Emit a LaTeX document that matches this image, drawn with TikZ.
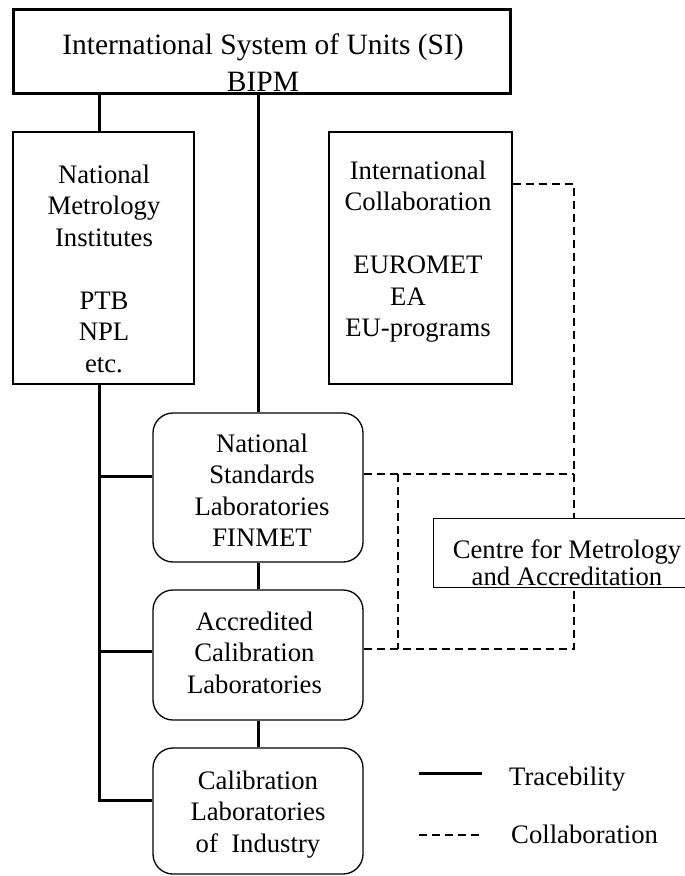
\documentclass[tikz,border=0pt]{standalone}
\usepackage{fontspec}
\setmainfont{Liberation Serif}
\begin{document}
\begin{tikzpicture}[x=1pt,y=-1pt,
  box/.style={draw, line width=1.3pt, fill=white, inner sep=0pt},
  rbox/.style={box, rounded corners=20pt},
  txt/.style={align=center, inner sep=0pt, anchor=north, font=\fontsize{26.7pt}{31.5pt}\selectfont},
  lbl/.style={inner sep=0pt, anchor=base west, font=\fontsize{26.7pt}{31.5pt}\selectfont},
  trace/.style={line width=3pt},
  collab/.style={line width=2.6pt, dash pattern=on 8pt off 5pt},
]
\useasboundingbox[fill=white] (0,0) rectangle (685,876);

% boxes
\node[box, line width=3pt, minimum width=497pt, minimum height=84pt] (si) at (261.5,51) {};
\node[txt, font=\fontsize{29.5pt}{37pt}\selectfont] (si-t) at (263,28.6) {\strut International System of Units (SI)\\BIPM};

\node[box, minimum width=181pt, minimum height=252pt] (nmi) at (103.5,258) {};
\node[txt] (nmi-t) at (104,161) {\strut National\\Metrology\\Institutes\\[31.5pt]PTB\\NPL\\etc.};

\node[box, minimum width=183pt, minimum height=252pt] (ic) at (420.5,258) {};
\node[txt] (ic-t) at (418,157) {\strut International\\Collaboration\\[31.5pt]EUROMET\\EA\rule{20pt}{0pt}\\EU-programs};

\node[rbox, minimum width=210pt, minimum height=149pt] (nsl) at (258,487.5) {};
\node[txt] (nsl-t) at (262,430) {\strut National\\Standards\\Laboratories\\FINMET};

\node[rbox, minimum width=210pt, minimum height=130pt] (acl) at (258,655) {};
\node[txt] (acl-t) at (254.5,608) {\strut Accredited\\Calibration\\Laboratories};

\node[rbox, minimum width=210pt, minimum height=126pt] (cli) at (258,811) {};
\node[txt] (cli-t) at (258,767) {\strut Calibration\\Laboratories\\of~ Industry};

% traceability connectors
\coordinate (tr) at (99,476);
\coordinate (tr2) at (99,651);
\coordinate (tr3) at (99,800);
\draw[trace] (si.south -| tr) -- (nmi.north -| tr);
\draw[trace] (nmi.south -| tr) -- (tr3) -- (tr3 -| cli.west);
\draw[trace] (tr) -- (tr -| nsl.west);
\draw[trace] (tr2) -- (tr2 -| acl.west);
\draw[trace] (si.south -| nsl.north) -- (nsl.north);
\draw[trace] (nsl.south) -- (acl.north);
\draw[trace] (acl.south) -- (cli.north);

% collaboration connectors
\coordinate (c1) at (574,184);
\coordinate (c2) at (574,649);
\coordinate (c3) at (574,474);
\coordinate (c4) at (398,474);
\coordinate (c5) at (398,649);
\draw[collab] (ic.east |- c1) -- (c1) -- (c2) -- (acl.east |- c2);
\draw[collab] (nsl.east |- c3) -- (c3);
\draw[collab] (c4) -- (c5);

% centre box (cut by the right margin)
\node[fill=white, inner sep=0pt, minimum width=251pt, minimum height=68pt] (cma) at (559.5,553) {};
\draw[line width=1.3pt] (cma.north east) -- (cma.north west) -- (cma.south west) -- (cma.south east);
\node[txt, font=\fontsize{26.7pt}{25pt}\selectfont] (cma-t) at (567,539.5) {\strut Centre for Metrology\\and Accreditation};

% legend
\coordinate (la) at (419,773);
\coordinate (lb) at (482,773);
\draw[trace] (la) -- (lb);
\node[lbl] (lt) at (509,785) {Tracebility};
\coordinate (lc) at (419,835);
\coordinate (ld) at (482,835);
\draw[collab] (lc) -- (ld);
\node[lbl] (lcol) at (511,843) {Collaboration};
\end{tikzpicture}
\end{document}
